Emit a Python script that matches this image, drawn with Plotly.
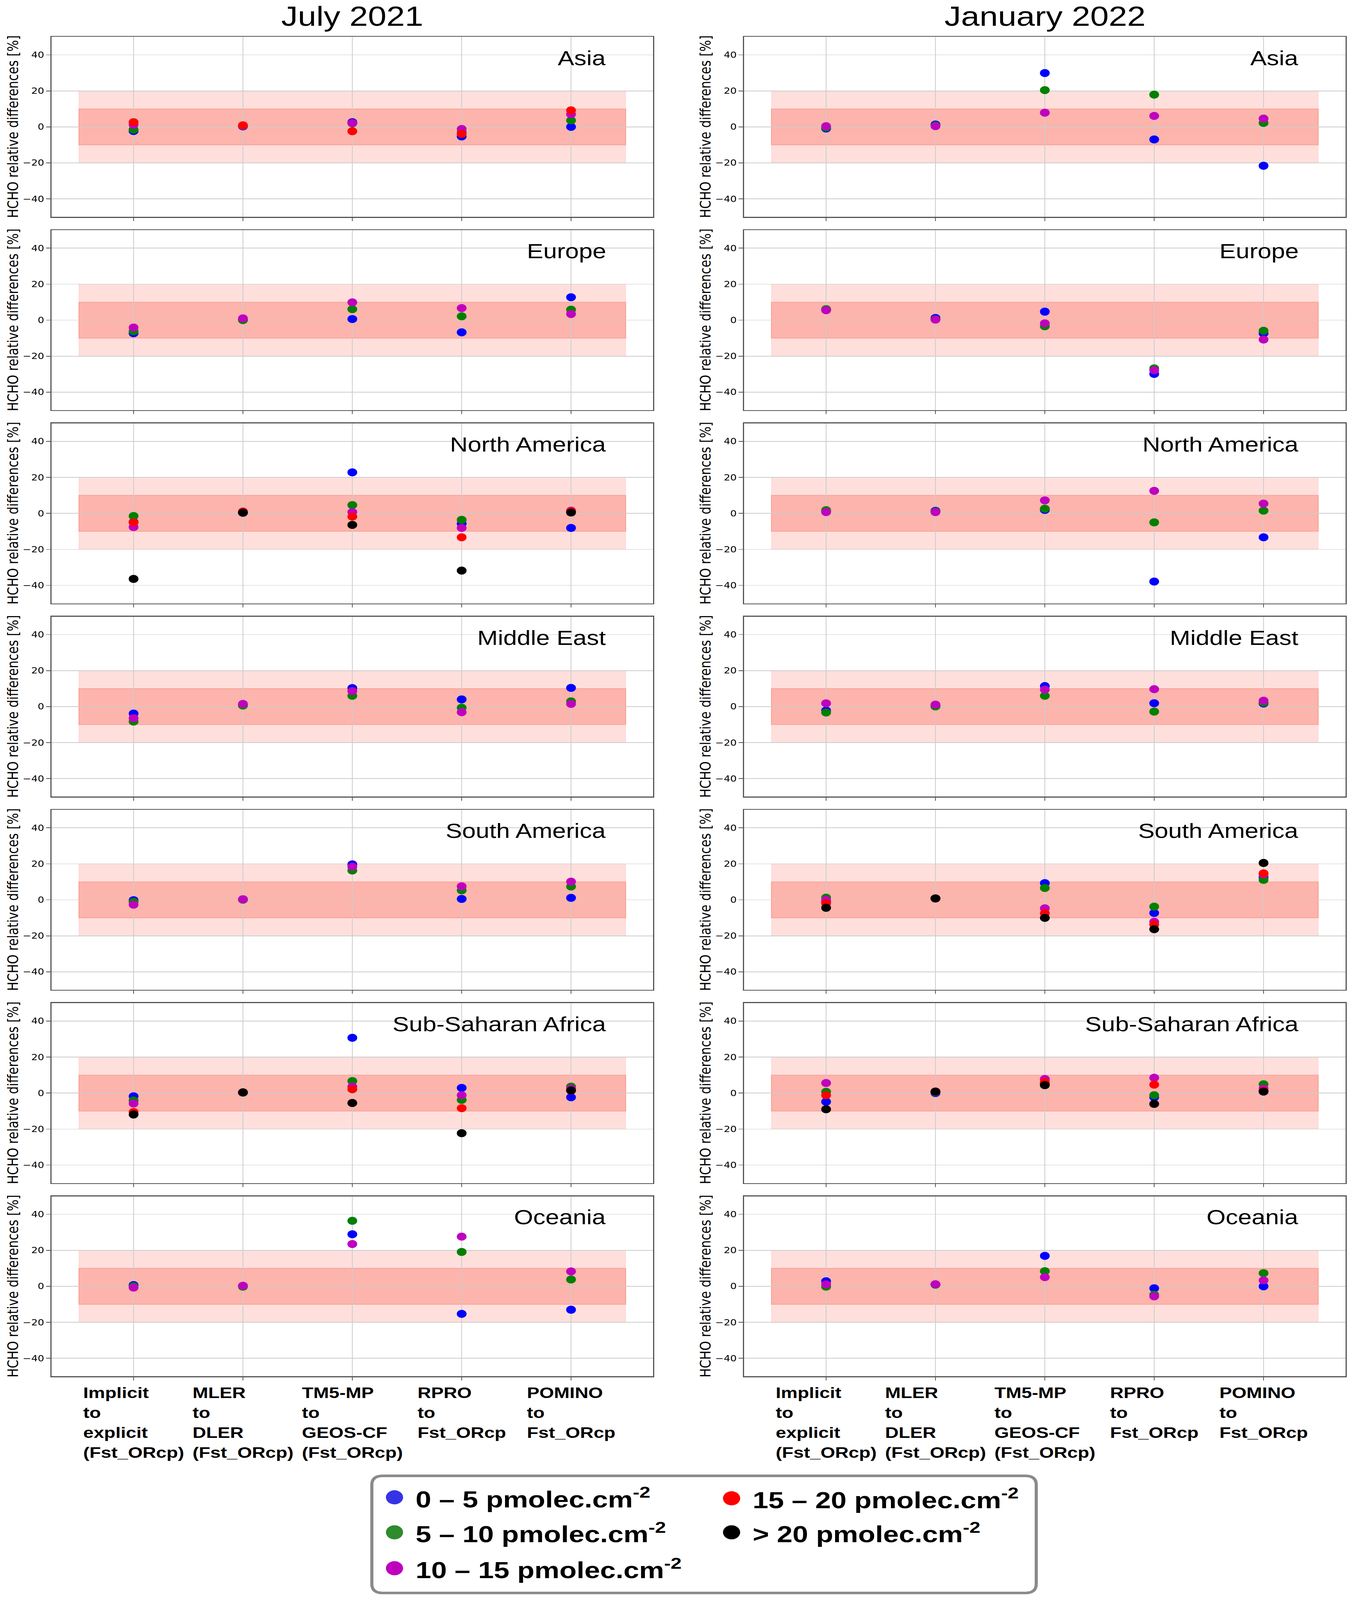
import plotly.graph_objects as go
from plotly.subplots import make_subplots

W, H = 3464, 4987

MONTHS = ["July 2021", "January 2022"]
REGIONS = ["Asia", "Europe", "North America", "Middle East",
           "South America", "Sub-Saharan Africa", "Oceania"]
CATEGORIES = ["Implicit to explicit (Fst_ORcp)", "MLER to DLER (Fst_ORcp)",
              "TM5-MP to GEOS-CF (Fst_ORcp)", "RPRO to Fst_ORcp", "POMINO to Fst_ORcp"]
SERIES = ["0 – 5 pmolec.cm<sup>-2</sup>", "5 – 10 pmolec.cm<sup>-2</sup>",
          "10 – 15 pmolec.cm<sup>-2</sup>", "15 – 20 pmolec.cm<sup>-2</sup>",
          "> 20 pmolec.cm<sup>-2</sup>"]
COLORS = ["#0000ff", "#008000", "#bf00bf", "#ff0000", "#000000"]
LEGEND_COLORS = ["#3434e6", "#2e8b2e", "#bf00bf", "#ff0000", "#000000"]

# July 2021 : one dict per HCHO column class, region -> value per comparison
JUL_0_5 = {
    "Asia": [-2.3, 0.3, 2.6, -5.3, 0.0],
    "Europe": [-7.3, 0.3, 0.6, -6.8, 12.7],
    "North America": [-4.8, 0.4, 22.8, -5.7, -8.1],
    "Middle East": [-3.9, 0.8, 10.3, 4.0, 10.4],
    "South America": [-0.2, 0.3, 19.7, 0.5, 1.1],
    "Sub-Saharan Africa": [-1.8, 0.3, 30.7, 2.9, -2.3],
    "Oceania": [0.7, 0.2, 28.9, -15.3, -13.0],
}
JUL_5_10 = {
    "Asia": [-1.5, 0.5, 2.0, -3.1, 3.6],
    "Europe": [-6.2, 0.0, 6.1, 2.1, 5.8],
    "North America": [-1.5, 0.5, 4.6, -3.6, 0.8],
    "Middle East": [-8.3, 0.6, 6.0, -0.6, 2.9],
    "South America": [-1.1, 0.1, 16.3, 5.3, 7.4],
    "Sub-Saharan Africa": [-4.1, 0.3, 6.7, -3.8, 3.6],
    "Oceania": [0.0, -0.2, 36.4, 19.1, 3.8],
}
JUL_10_15 = {
    "Asia": [1.2, 0.6, 2.1, -1.2, 7.0],
    "Europe": [-4.1, 1.0, 9.9, 6.7, 3.4],
    "North America": [-7.6, 0.6, 0.7, -8.1, 1.5],
    "Middle East": [-6.4, 1.5, 8.6, -3.1, 1.5],
    "South America": [-2.7, 0.3, 18.4, 7.5, 10.1],
    "Sub-Saharan Africa": [-5.8, 0.4, 3.6, -1.2, 2.5],
    "Oceania": [-0.7, 0.3, 23.5, 27.6, 8.3],
}
JUL_15_20 = {
    "Asia": [2.6, 0.9, -2.4, -3.9, 9.2],
    "North America": [-5.0, 1.0, -1.8, -13.3, 1.2],
    "Sub-Saharan Africa": [-10.5, 0.4, 2.1, -8.4, 1.3],
}
JUL_GT_20 = {
    "North America": [-36.4, 0.4, -6.4, -31.8, 0.5],
    "Sub-Saharan Africa": [-11.9, 0.4, -5.5, -22.3, 1.5],
}

# January 2022
JAN_0_5 = {
    "Asia": [-0.9, 1.3, 29.9, -7.0, -21.6],
    "Europe": [5.8, 1.2, 4.7, -29.9, -7.4],
    "North America": [1.0, 1.4, 1.9, -37.9, -13.3],
    "Middle East": [-2.2, 0.5, 11.4, 1.9, 1.7],
    "South America": [-1.0, 0.8, 9.3, -7.3, 12.5],
    "Sub-Saharan Africa": [-4.8, 0.0, 5.0, -2.3, 1.2],
    "Oceania": [2.8, 1.0, 16.9, -1.1, 0.0],
}
JAN_5_10 = {
    "Asia": [-0.3, 0.8, 20.4, 17.9, 2.2],
    "Europe": [6.1, 0.5, -3.4, -26.8, -5.9],
    "North America": [1.8, 1.0, 2.6, -5.0, 1.5],
    "Middle East": [-3.3, 0.1, 6.0, -2.8, 2.2],
    "South America": [1.2, 0.8, 6.6, -3.8, 11.1],
    "Sub-Saharan Africa": [0.7, 0.5, 5.5, -1.2, 4.9],
    "Oceania": [-0.2, 0.9, 8.4, -4.7, 7.3],
}
JAN_10_15 = {
    "Asia": [0.4, 0.4, 7.9, 6.1, 4.6],
    "Europe": [5.5, 0.3, -1.8, -27.9, -10.8],
    "North America": [0.7, 0.7, 7.2, 12.5, 5.4],
    "Middle East": [1.8, 1.1, 9.4, 9.7, 3.3],
    "South America": [-0.1, 0.8, -4.7, -12.2, 14.2],
    "Sub-Saharan Africa": [5.6, 0.8, 7.8, 8.5, 2.5],
    "Oceania": [1.1, 1.2, 5.1, -5.6, 3.3],
}
JAN_15_20 = {
    "South America": [-1.9, 0.8, -7.4, -13.7, 14.7],
    "Sub-Saharan Africa": [-1.2, 0.8, 6.2, 4.7, 1.2],
}
JAN_GT_20 = {
    "South America": [-4.4, 0.8, -10.0, -16.3, 20.5],
    "Sub-Saharan Africa": [-9.0, 0.8, 4.4, -6.0, 0.8],
}

month_series = [
    [JUL_0_5, JUL_5_10, JUL_10_15, JUL_15_20, JUL_GT_20],
    [JAN_0_5, JAN_5_10, JAN_10_15, JAN_15_20, JAN_GT_20],
]

FONT = "Liberation Sans, Arial, sans-serif"
AXIS_FONT = "DejaVu Sans, sans-serif"

# panel placement in pixels
col_px = [(132, 1672), (1905, 3445)]
row_top0, row_pitch, row_h = 115, 602.3, 561

fig = make_subplots(rows=len(REGIONS), cols=2)

for c, series_list in enumerate(month_series):
    for r, region in enumerate(REGIONS):
        n = r * 2 + c + 1
        suf = "" if n == 1 else str(n)
        for s, data in enumerate(series_list):
            if region not in data:
                continue
            fig.add_trace(go.Scatter(
                x=CATEGORIES, y=data[region], mode="markers",
                name=SERIES[s], showlegend=False,
                marker=dict(color=COLORS[s], size=25, line=dict(width=0)),
            ), row=r + 1, col=c + 1)

        top = row_top0 + row_pitch * r
        fig.layout["xaxis" + suf].update(
            domain=[col_px[c][0] / W, col_px[c][1] / W],
            type="category", categoryorder="array", categoryarray=CATEGORIES,
            range=[-0.75, 4.75], showticklabels=False,
            ticks="outside", ticklen=10, tickwidth=2, tickcolor="#555",
            showgrid=True, gridcolor="#cccccc", gridwidth=2,
            showline=True, mirror=True, linecolor="#555", linewidth=2.5,
            zeroline=False,
        )
        fig.layout["yaxis" + suf].update(
            domain=[1 - (top + row_h) / H, 1 - top / H],
            range=[-50, 50], tickvals=[-40, -20, 0, 20, 40],
            ticks="outside", ticklen=11, tickwidth=2, tickcolor="#555",
            tickfont=dict(family=AXIS_FONT, size=26, color="black"),
            showgrid=True, gridcolor="#cccccc", gridwidth=2,
            showline=True, mirror=True, linecolor="#555", linewidth=2.5,
            zeroline=False,
        )

        # +-20 % and +-10 % bands
        fig.add_shape(type="rect", xref="x" + suf, yref="y" + suf,
                      x0=-0.5, x1=4.5, y0=-20, y1=20, layer="below",
                      fillcolor="rgba(250,128,114,0.25)",
                      line=dict(color="rgba(250,128,114,0.15)", width=2))
        fig.add_shape(type="rect", xref="x" + suf, yref="y" + suf,
                      x0=-0.5, x1=4.5, y0=-10, y1=10, layer="below",
                      fillcolor="rgba(250,128,114,0.45)",
                      line=dict(color="rgba(250,128,114,0.6)", width=2))

        fig.add_annotation(xref="x" + suf, yref="y" + suf, x=4.33, y=38.3,
                           text=region, showarrow=False, xanchor="right",
                           yanchor="middle",
                           font=dict(family=FONT, size=63, color="black"))

        # y-axis title
        fig.add_annotation(xref="paper", yref="paper",
                           x=(col_px[c][0] - 99) / W, y=1 - (top + row_h / 2) / H,
                           text="HCHO relative differences [%]", textangle=-90,
                           showarrow=False, xanchor="center", yanchor="middle",
                           font=dict(family=AXIS_FONT, size=38, color="black"))

        # category labels under the last row
        if r == len(REGIONS) - 1:
            for i, cat in enumerate(CATEGORIES):
                fig.add_annotation(xref="x" + suf, yref="y" + suf + " domain",
                                   x=i, y=0, yshift=-22, yanchor="top",
                                   xanchor="center", align="left",
                                   text="<b>" + cat.replace(" ", "<br>") + "</b>",
                                   showarrow=False,
                                   font=dict(family=FONT, size=48, color="black"))

    fig.add_annotation(xref="paper", yref="paper",
                       x=(col_px[c][0] + col_px[c][1]) / 2 / W, y=1 - 50 / H,
                       text=MONTHS[c], showarrow=False, xanchor="center",
                       yanchor="middle",
                       font=dict(family=FONT, size=85, color="black"))


# legend box drawn by hand (two columns)
def px(x):
    return x / W


def py(y):
    return 1 - y / H


x0, y0, x1, y1, rad = 952, 4600, 2653, 4965, 28
path = (f"M {px(x0 + rad)},{py(y0)} L {px(x1 - rad)},{py(y0)} "
        f"Q {px(x1)},{py(y0)} {px(x1)},{py(y0 + rad)} "
        f"L {px(x1)},{py(y1 - rad)} Q {px(x1)},{py(y1)} {px(x1 - rad)},{py(y1)} "
        f"L {px(x0 + rad)},{py(y1)} Q {px(x0)},{py(y1)} {px(x0)},{py(y1 - rad)} "
        f"L {px(x0)},{py(y0 + rad)} Q {px(x0)},{py(y0)} {px(x0 + rad)},{py(y0)} Z")
fig.add_shape(type="path", xref="paper", yref="paper", path=path,
              fillcolor="white", line=dict(color="#8a8a8a", width=8))

legend_pos = [(1010, 4667), (1010, 4776), (1010, 4888), (1873, 4670), (1873, 4776)]
for s, (mx, my) in enumerate(legend_pos):
    rr = 22
    fig.add_shape(type="circle", xref="paper", yref="paper",
                  x0=px(mx - rr), x1=px(mx + rr), y0=py(my + rr), y1=py(my - rr),
                  fillcolor=LEGEND_COLORS[s], line=dict(width=0))
    fig.add_annotation(xref="paper", yref="paper", x=px(mx + 52), y=py(my),
                       text="<b>" + SERIES[s] + "</b>", showarrow=False,
                       xanchor="left", yanchor="middle",
                       font=dict(family=FONT, size=72, color="black"))

fig.update_layout(
    width=W, height=H,
    margin=dict(l=0, r=0, t=0, b=0),
    paper_bgcolor="white", plot_bgcolor="white",
    showlegend=False,
)

# the browser window can be shorter than the figure: squeeze it to fit
fit_js = """
document.documentElement.style.overflow = 'hidden';
document.body.style.overflow = 'hidden';
document.body.style.margin = '0';
var gd = document.getElementById('{plot_id}');
var sx = Math.min(1, window.innerWidth / %d), sy = Math.min(1, window.innerHeight / %d);
if (sx < 1 || sy < 1) {
    gd.style.transformOrigin = '0 0';
    gd.style.transform = 'scale(' + sx + ',' + sy + ')';
}
""" % (W, H)

fig.write_html("out.html", config={"displayModeBar": False}, post_script=fit_js)
